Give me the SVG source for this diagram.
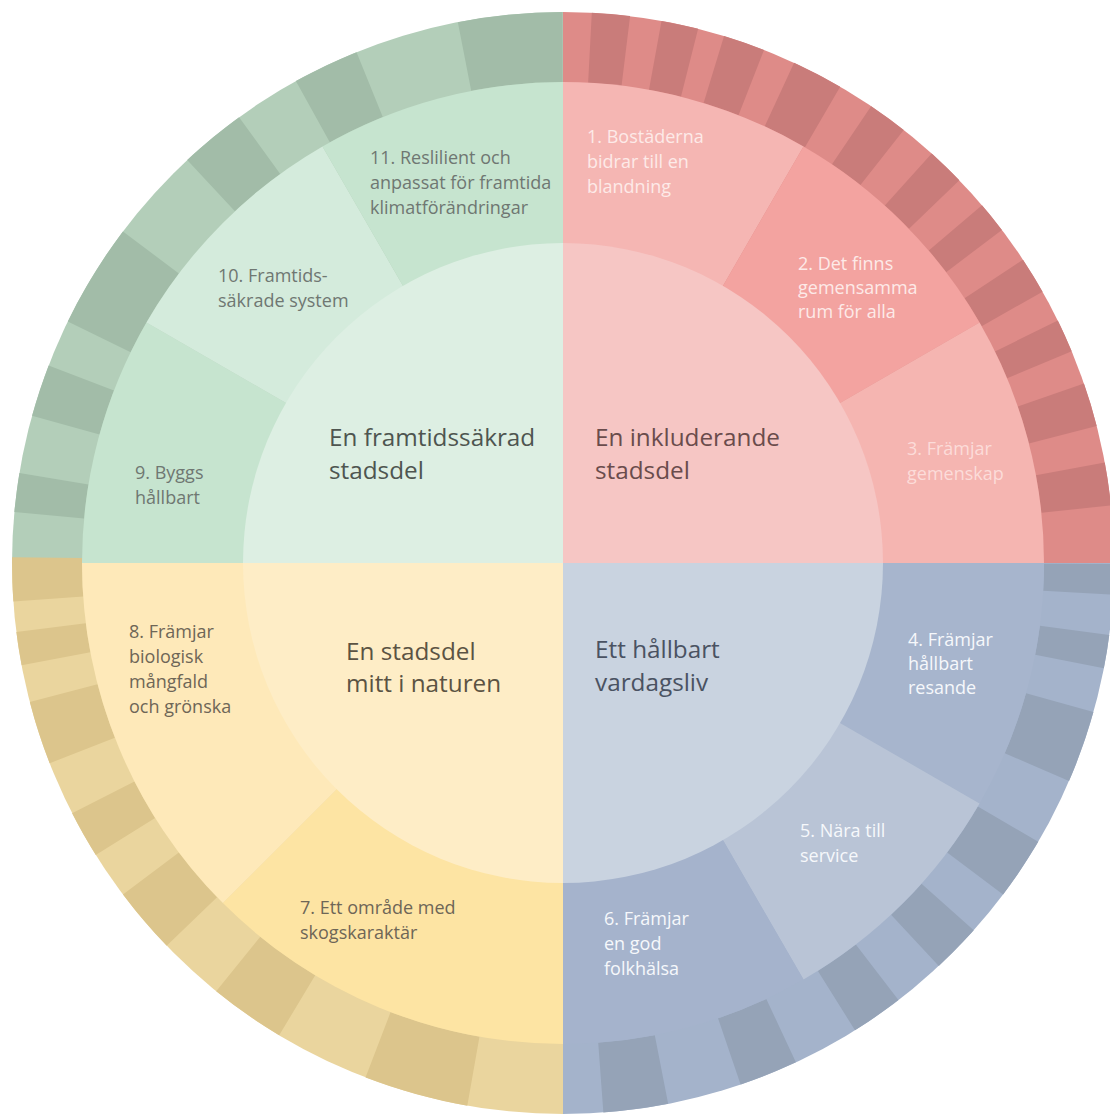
<svg xmlns="http://www.w3.org/2000/svg" width="1110" height="1118" viewBox="0 0 1110 1118">
<style>
.t{font-family:"Open Sans","Noto Sans","Liberation Sans",sans-serif;font-size:18px}
.c{font-family:"Open Sans","Noto Sans","Liberation Sans",sans-serif;font-size:24.3px}
.seg{fill:none;stroke-width:70}
.gT{fill:#6f7772}.gC{fill:#4e5550}
.pT{fill:#fdeae8}.pT3{fill:#fcdcd9}.pC{fill:#6a4c4c}
.bT{fill:#f6f8fb}.bC{fill:#4a5262}
.yT{fill:#6e6657}.yC{fill:#5b5343}
</style>
<rect width="1110" height="1118" fill="#ffffff"/>
<g id="outer-ring">
<path d="M563,563 V12 A551,551 0 0 1 1114,563 Z" fill="#de8b88"/>
<path d="M563,563 H1114 A551,551 0 0 1 563,1114 Z" fill="#a4b3cb"/>
<path d="M563,563 V1114 A551,551 0 0 1 12,563 Z" fill="#ead59e"/>
<path d="M563,563 H12 A551,551 0 0 1 563,12 Z" fill="#b3ceb9"/>
<circle class="seg" cx="563" cy="563" r="516" pathLength="360" transform="rotate(-90 563 563)" stroke="#c97c7a" stroke-dasharray="0 3 4 3.3 3.9 2.8 4.4 3.4 5.4 3.8 4.2 3.8 4 3.5 3.3 3.8 3.9 3.4 3.5 3.6 4.6 3.9 4.5 276"/>
<circle class="seg" cx="563" cy="563" r="516" pathLength="360" transform="rotate(-45 563 563)" stroke="#95a3b7" stroke-dasharray="0 45.1 3.2 4.2 3.5 4.7 7.6 7.1 6.6 4.8 5.2 5.5 5.5 7 6.2 7.8 6.8 229.2"/>
<circle class="seg" cx="563" cy="563" r="516" pathLength="360" transform="rotate(-45 563 563)" stroke="#dcc58c" stroke-dasharray="0 145 11 10 8 7 7 5 5 5.7 6.7 3.9 3.5 3.2 4.6 134.4"/>
<circle class="seg" cx="563" cy="563" r="516" pathLength="360" transform="rotate(-45 563 563)" stroke="#a2bca8" stroke-dasharray="0 230.3 4.1 6.1 5.5 5 11 10 7 7 7 11 10.95 45.05"/>
</g>
<g id="item-1"><path d="M563,563 L563,82 A481,481 0 0 1 803.5,146.44 Z" fill="#f5b6b3"/>
<text class="t pT"><tspan x="587" y="143">1. Bostäderna</tspan><tspan x="587" y="168">bidrar till en</tspan><tspan x="587" y="193">blandning</tspan></text></g>
<g id="item-2"><path d="M563,563 L803.5,146.44 A481,481 0 0 1 979.56,322.5 Z" fill="#f3a3a0"/>
<text class="t pT"><tspan x="798" y="270">2. Det finns</tspan><tspan x="798" y="294">gemensamma</tspan><tspan x="798" y="318">rum för alla</tspan></text></g>
<g id="item-3"><path d="M563,563 L979.56,322.5 A481,481 0 0 1 1044,563 Z" fill="#f5b5b1"/>
<text class="t pT3"><tspan x="907" y="455">3. Främjar</tspan><tspan x="907" y="480">gemenskap</tspan></text></g>
<g id="item-4"><path d="M563,563 L1044,563 A481,481 0 0 1 979.56,803.5 Z" fill="#a7b5cd"/>
<text class="t bT"><tspan x="908" y="646">4. Främjar</tspan><tspan x="908" y="670">hållbart</tspan><tspan x="908" y="694">resande</tspan></text></g>
<g id="item-5"><path d="M563,563 L979.56,803.5 A481,481 0 0 1 803.5,979.56 Z" fill="#b9c4d6"/>
<text class="t bT"><tspan x="800" y="837">5. Nära till</tspan><tspan x="800" y="862">service</tspan></text></g>
<g id="item-6"><path d="M563,563 L803.5,979.56 A481,481 0 0 1 563,1044 Z" fill="#a5b3cc"/>
<text class="t bT"><tspan x="604" y="925">6. Främjar</tspan><tspan x="604" y="950">en god</tspan><tspan x="604" y="975">folkhälsa</tspan></text></g>
<g id="item-7"><path d="M563,563 L563,1044 A481,481 0 0 1 222.88,903.12 Z" fill="#fde4a3"/>
<text class="t yT"><tspan x="300" y="914">7. Ett område med</tspan><tspan x="300" y="939">skogskaraktär</tspan></text></g>
<g id="item-8"><path d="M563,563 L222.88,903.12 A481,481 0 0 1 82,563 Z" fill="#fee9b9"/>
<text class="t yT"><tspan x="129" y="638">8. Främjar</tspan><tspan x="129" y="663">biologisk</tspan><tspan x="129" y="688">mångfald</tspan><tspan x="129" y="713">och grönska</tspan></text></g>
<g id="item-9"><path d="M563,563 L82,563 A481,481 0 0 1 146.44,322.5 Z" fill="#c6e4cf"/>
<text class="t gT"><tspan x="135" y="479">9. Byggs</tspan><tspan x="135" y="504">hållbart</tspan></text></g>
<g id="item-10"><path d="M563,563 L146.44,322.5 A481,481 0 0 1 322.5,146.44 Z" fill="#d4ebdc"/>
<text class="t gT"><tspan x="218" y="282">10. Framtids-</tspan><tspan x="218" y="307">säkrade system</tspan></text></g>
<g id="item-11"><path d="M563,563 L322.5,146.44 A481,481 0 0 1 563,82 Z" fill="#c6e4cf"/>
<text class="t gT"><tspan x="370" y="164">11. Reslilient och</tspan><tspan x="370" y="189">anpassat för framtida</tspan><tspan x="370" y="214">klimatförändringar</tspan></text></g>
<g id="center-inkluderande"><path d="M563,563 V243 A320,320 0 0 1 883,563 Z" fill="#f6c6c4"/>
<text class="c pC"><tspan x="595" y="446">En inkluderande</tspan><tspan x="595" y="479">stadsdel</tspan></text></g>
<g id="center-vardagsliv"><path d="M563,563 H883 A320,320 0 0 1 563,883 Z" fill="#c9d3e0"/>
<text class="c bC"><tspan x="595" y="658">Ett hållbart</tspan><tspan x="595" y="691">vardagsliv</tspan></text></g>
<g id="center-naturen"><path d="M563,563 V883 A320,320 0 0 1 243,563 Z" fill="#feedc6"/>
<text class="c yC"><tspan x="346" y="660">En stadsdel</tspan><tspan x="346" y="692">mitt i naturen</tspan></text></g>
<g id="center-framtidssakrad"><path d="M563,563 H243 A320,320 0 0 1 563,243 Z" fill="#ddefe3"/>
<text class="c gC"><tspan x="329" y="446">En framtidssäkrad</tspan><tspan x="329" y="479">stadsdel</tspan></text></g>
<g id="connectors"/>
</svg>
